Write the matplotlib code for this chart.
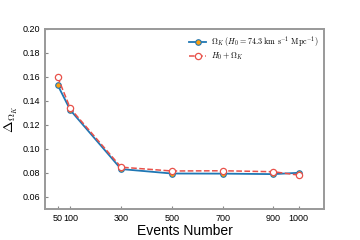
import matplotlib
matplotlib.use("Agg")
import matplotlib.pyplot as plt
from matplotlib import rcParams

rcParams['font.family'] = 'sans-serif'
rcParams['font.sans-serif'] = ['Liberation Sans']
rcParams['mathtext.fontset'] = 'cm'

events = [50, 100, 300, 500, 700, 900, 1000]
# Omega_K only, H0 fixed
dok = [0.1531, 0.1322, 0.0831, 0.0794, 0.0793, 0.0789, 0.0800]
# H0 + Omega_K
dok_h0 = [0.1597, 0.1336, 0.0847, 0.0815, 0.0817, 0.0809, 0.0781]
xticks = [50, 100, 300, 500, 700, 900, 1000]

fig = plt.figure(figsize=(3.6, 2.4), dpi=100)
ax = fig.add_axes([0.125, 0.13, 0.775, 0.75])

ax.plot(events, dok, '-o', color='#1f77b4', mfc='#ff9f0e', mec='#1f77b4',
        ms=4, lw=1.3, mew=0.8,
        label=r'$\Omega_K\ (H_0=74.3\ \mathrm{km\ s^{-1}\ Mpc^{-1}})$')
ax.plot(events, dok_h0, '--o', color='#e8514a', mfc='white', mec='#e8514a',
        ms=4.5, lw=1.1, mew=0.9, label=r'$H_0+\Omega_K$')

ax.set_xlim(0, 1100)
ax.set_ylim(0.05, 0.20)
ax.set_xticks(xticks)
ax.set_yticks([0.06, 0.08, 0.10, 0.12, 0.14, 0.16, 0.18, 0.20])
ax.tick_params(direction='in', labelsize=6.5, length=2.5, width=0.8, color='#888888')
for s in ax.spines.values():
    s.set_color('#999999')
    s.set_linewidth(1.4)

ax.set_xlabel('Events Number', fontsize=10, labelpad=1)
ax.set_ylabel(r'$\Delta_{\Omega_K}$', fontsize=10, labelpad=2)
ax.legend(loc='upper right', fontsize=5.8, frameon=False, handlelength=2.1,
          handletextpad=0.6, labelspacing=0.2, borderaxespad=0.3)

fig.savefig('out.png', dpi=100)
